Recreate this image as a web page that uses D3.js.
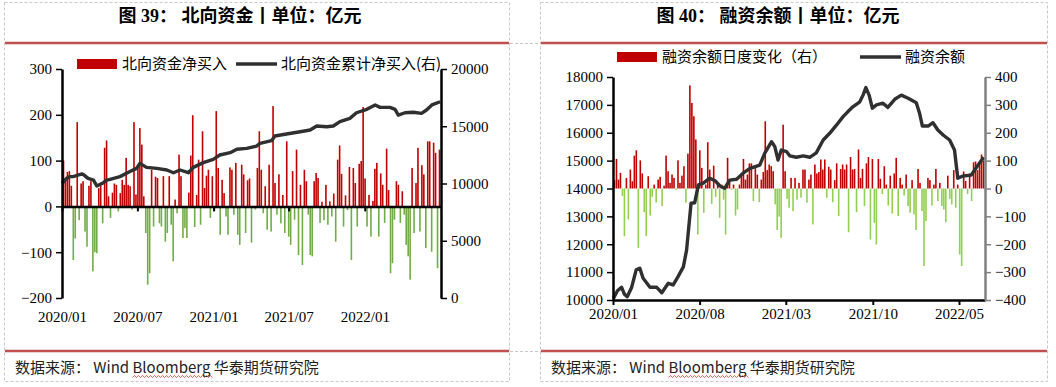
<!DOCTYPE html>
<html>
<head>
<meta charset="utf-8">
<script src="https://cdn.jsdelivr.net/npm/d3@7/dist/d3.min.js"></script>
<style>
    body { margin: 0; background: #fff; }
    svg text { font-family: "Liberation Serif", "Noto Sans CJK SC", serif; fill: #000; }
    .cjk { font-family: "Noto Sans CJK SC", sans-serif; }
</style>
</head>
<body>
<svg id="chart" width="1056" height="387"></svg>
<script>
// ---------- 图39 北向资金 ----------
// 日度净买入（亿元），按交易日顺序，读图估计
const northNetBuy = [
    100, 62, 75, 77, 45, -117, -70, 184, -30, 50,
    55, -55, -88, 45, 55, -142, -100, -102, 40, 45,
    -37, 128, 144, 22, -25, 30, 50, 47, -11, 29,
    58, 47, 106, 47, 44, -7, 184, 26, 88, 171,
    135, 22, -58, -171, -146, 80, -44, 65, 62, -37,
    -44, 66, -77, -58, 66, -40, -120, 15, -15, 113,
    66, -69,
    -47, -69, 30, 111, 199, -45, 25, 102, -40, 164,
    40, 67, 80, -25, 66, -10, 208, 84, -62, 58,
    29, -22, -62, 85, 80, -18, 95, -62, -84, 91,
    70, -58, 57, 61, -79, -4, -7, 84, 164, 80,
    -15, 44, -51, 91, -55, 219, 51, -18, 70, -37,
    25, -58, 142, -66, -84, 77, -29, 124, -106, 47,
    -128, 80, 55, -18, -106, -109,
    55, 73, 62, -36, 10, -30, 47, -40, 11, -22,
    28, -77, 102, 133, 71, -44, 24, -8, 86, -117,
    84, 51, -44, 93, 99, 217, 61, -44, 25, -66,
    12, 82, 95, -66, 72, 47, -36, 126, 36, -146,
    -124, -29, 55, 47, -36, 33, -18, -84, -109, -160,
    84, -58, 51, 128, -55, 90, 70, -91, 142, 142,
    -99, 139, 117, -135, 124
];
// 累计净买入（右轴）
const northCumDates = [
    "2020-01-01", "2020-01-12", "2020-01-20", "2020-01-28", "2020-02-18", "2020-02-21",
    "2020-03-04", "2020-03-17", "2020-03-25", "2020-04-10", "2020-04-18", "2020-04-26",
    "2020-05-20", "2020-06-13", "2020-06-29", "2020-07-07", "2020-07-23", "2020-08-17",
    "2020-09-10", "2020-09-26", "2020-10-12", "2020-11-01", "2020-11-13", "2020-12-07",
    "2020-12-31", "2021-01-16", "2021-02-10", "2021-02-26", "2021-03-22", "2021-04-15",
    "2021-04-23", "2021-05-21", "2021-05-29", "2021-06-26", "2021-07-29", "2021-08-22",
    "2021-09-07", "2021-10-01", "2021-10-17", "2021-11-02", "2021-11-26", "2021-12-12",
    "2022-01-06", "2022-01-26", "2022-02-07", "2022-03-03", "2022-03-15", "2022-03-23",
    "2022-04-08", "2022-04-28", "2022-05-18", "2022-05-30", "2022-06-12", "2022-07-02"
];
const northCumValues = [
    10000, 10450, 10600, 10600, 10830, 10800,
    10450, 10300, 9780, 10070, 10300, 10360,
    10600, 11040, 11320, 11760, 11410, 11320,
    11180, 10940, 11180, 10940, 11410, 11820,
    12110, 12490, 12690, 12990, 13070, 13270,
    13510, 13740, 14150, 14320, 14520, 14670,
    15020, 14960, 15020, 15400, 15690, 16180,
    16480, 16860, 16650, 16650, 16480, 15980,
    16180, 16220, 16130, 16420, 16860, 17140
];
const northTickLabels = ["2020/01", "2020/07", "2021/01", "2021/07", "2022/01"];
const northLeftTicks = [-200, -100, 0, 100, 200, 300];
const northRightTicks = [0, 5000, 10000, 15000, 20000];

// ---------- 图40 融资余额 ----------
// 融资余额日度变化（右轴，亿元）
const marginChange = [
    30, 106, 32, 56, -27, -171, 38, -111, 68, 26,
    118, 137, -213, 101, 54, -85, -171, 44, -97, -30,
    14, -50, 32, 42, -63, 10, 118, 62, 20, 50,
    38, -5, 101, 20, 46, 80, -51, 125, 370, 307,
    259, 176, -165, 137, 74, -87, 14, 166, 68, -55,
    82, -30, 20, -105, 14, -40, -165, 110, 32, -5,
    14, -97, -75, 14, 54, 106, 32, 50, 90, 90,
    -45, 80, 50, -49, 32, 59, 241, 66, 86, 80,
    62, -57, -149, -101, -177, 229, 62, -37, -69, 38,
    -81, 38, -40, 20, -33, 68, 68, -51, 32, 50,
    -129, 86, 54, 59, 104, 68, 104, -33, 78, 68,
    -49, 30, 90, -99, 70, 86, 68, 86, -157, 113,
    68, 70, -85, 140, 38, 70, -63, 90, 113, -183,
    106, -123, -201, 106, 35, -20, 80, 14, -61, 46,
    -90, 54, 110, -99, 38, 14, -25, 50, -63, -87,
    30, -93, -149, 70, 20, -81, -278, -117, 38, 30,
    -61, 14, 70, -45, 20, -63, -75, -121, 46, -37,
    -57, 66, -69, 14, -237, -278, 61, 27, -20, 54,
    -45, 94, 97, 66, 92, 122, 100
];
// 融资余额（左轴）
const marginDates = [
    "2020-01-02", "2020-01-12", "2020-01-22", "2020-01-29", "2020-02-05", "2020-02-16",
    "2020-02-27", "2020-03-07", "2020-03-15", "2020-04-01", "2020-04-17", "2020-04-30",
    "2020-05-16", "2020-05-28", "2020-06-09", "2020-06-22", "2020-06-30", "2020-07-11",
    "2020-07-20", "2020-07-29", "2020-08-10", "2020-08-26", "2020-09-08", "2020-09-20",
    "2020-10-02", "2020-10-14", "2020-10-31", "2020-11-16", "2020-12-03", "2020-12-27",
    "2021-01-08", "2021-01-25", "2021-02-02", "2021-02-10", "2021-02-18", "2021-03-03",
    "2021-03-11", "2021-03-27", "2021-04-13", "2021-04-29", "2021-05-15", "2021-06-01",
    "2021-06-17", "2021-07-04", "2021-07-20", "2021-08-01", "2021-08-13", "2021-08-30",
    "2021-09-07", "2021-09-14", "2021-09-22", "2021-09-30", "2021-10-10", "2021-10-26",
    "2021-11-07", "2021-11-24", "2021-12-10", "2021-12-27", "2022-01-16", "2022-01-24",
    "2022-01-31", "2022-02-14", "2022-02-26", "2022-03-10", "2022-03-23", "2022-04-08",
    "2022-04-20", "2022-04-28", "2022-05-11", "2022-05-31", "2022-06-17", "2022-07-01"
];
const marginBalance = [
    10060, 10330, 10460, 10210, 10120, 10460,
    11080, 11140, 10780, 10460, 10460, 10260,
    10600, 10540, 10840, 11190, 11790, 13470,
    13490, 14130, 14190, 14370, 14280, 14090,
    14010, 14300, 14330, 14550, 14720, 14840,
    15260, 15680, 15500, 15020, 15380, 15320,
    15170, 15120, 15170, 15120, 15280, 15740,
    15980, 16280, 16580, 16760, 16930, 17110,
    17350, 17620, 17350, 16880, 17000, 17060,
    16910, 17200, 17350, 17240, 17080, 16700,
    16240, 16240, 16360, 16100, 15920, 15740,
    15380, 14370, 14450, 14480, 14840, 15120
];
const marginTickLabels = ["2020/01", "2020/08", "2021/03", "2021/10", "2022/05"];
const marginLeftTicks = [10000, 11000, 12000, 13000, 14000, 15000, 16000, 17000, 18000];
const marginRightTicks = [-400, -300, -200, -100, 0, 100, 200, 300, 400];


let parseDay = d3.timeParse("%Y-%m-%d");
let parseMonth = d3.timeParse("%Y/%m");
let plain = d3.format("d");
let svg = d3.select("#chart");


// panel frame: dashed cell border, title, red rules, source
function drawFrame(x0, x1, title, titleX) {
    svg.append("rect")
        .attr("x", x0 + 0.5).attr("y", 2.5)
        .attr("width", x1 - x0).attr("height", 379)
        .attr("fill", "none")
        .attr("stroke", "#c8c8c8")
        .attr("stroke-dasharray", "3,2");

    svg.append("text")
        .attr("x", titleX).attr("y", 21.5)
        .attr("text-anchor", "middle")
        .style("font-size", "18px")
        .style("font-weight", "bold")
        .text(title);

    [43, 351].forEach(function (yy) {
        svg.append("line")
            .attr("x1", x0 + 1).attr("x2", x1)
            .attr("y1", yy).attr("y2", yy)
            .attr("stroke", "#c0504d")
            .attr("stroke-width", 2.5);
    });

    let src = svg.append("text")
        .attr("class", "cjk")
        .attr("x", x0 + 11).attr("y", 373)
        .style("font-size", "15px")
        .style("fill", "#222")
        .text("数据来源： Wind Bloomberg 华泰期货研究院");

    // spell-check squiggle under "Bloomberg"
    let node = src.node();
    let s = node.getStartPositionOfChar(11).x;
    let e = node.getEndPositionOfChar(19).x + 4;
    let pts = d3.range(s, e, 2).map(function (px, i) { return [px, i % 2 ? 375.5 : 377.5]; });
    svg.append("path")
        .attr("d", d3.line()(pts))
        .attr("fill", "none")
        .attr("stroke", "#e03030")
        .attr("stroke-width", 0.8);
}


// dual axis bars + line
DualChart = function (_cfg) {
    this.cfg = _cfg;
    this.initVis();
};

DualChart.prototype.initVis = function () {
    let vis = this;
    let c = vis.cfg;

    vis.x = d3.scaleTime()
        .domain([parseDay("2020-01-01"), parseDay("2022-07-04")])
        .range([c.left, c.right]);

    vis.xi = d3.scaleLinear()
        .domain([0, c.bars.length - 1])
        .range([c.left + 1.5, c.right - 1.5]);

    vis.yLeft = d3.scaleLinear().domain(c.leftDomain).range([c.bottom, c.top]);
    vis.yRight = d3.scaleLinear().domain(c.rightDomain).range([c.bottom, c.top]);

    vis.yBar = c.barsOnLeft ? vis.yLeft : vis.yRight;
    vis.yLine = c.barsOnLeft ? vis.yRight : vis.yLeft;

    vis.g = svg.append("g");

    // bars
    vis.g.append("g").selectAll("rect")
        .data(c.bars)
        .enter().append("rect")
        .attr("x", function (d, i) { return vis.xi(i) - 0.8; })
        .attr("width", 1.6)
        .attr("y", function (d) { return vis.yBar(Math.max(0, d)); })
        .attr("height", function (d) { return Math.abs(vis.yBar(d) - vis.yBar(0)); })
        .attr("fill", function (d) { return d >= 0 ? "#c00000" : c.green; });

    // line
    let pts = c.lineDates.map(function (d, i) { return {date: parseDay(d), value: c.lineValues[i]}; });
    vis.g.append("path")
        .datum(pts)
        .attr("fill", "none")
        .attr("stroke", "#303030")
        .attr("stroke-width", 3.4)
        .attr("stroke-linejoin", "round")
        .attr("d", d3.line()
            .x(function (d) { return vis.x(d.date); })
            .y(function (d) { return vis.yLine(d.value); }));

    let tickDates = c.tickLabels.map(function (t) { return parseMonth(t); });

    // x axis line + ticks
    let xAxisY = c.barsOnLeft ? vis.yBar(0) : c.bottom;
    let xg = vis.g.append("g")
        .attr("transform", "translate(0," + xAxisY + ")")
        .call(d3.axisBottom(vis.x).tickValues(tickDates).tickSize(5).tickSizeOuter(0).tickFormat(""));
    xg.select(".domain").attr("stroke-width", 2.5);
    xg.selectAll(".tick line").attr("stroke-width", 2);

    // x labels
    let xl = vis.g.append("g")
        .attr("transform", "translate(0," + c.bottom + ")")
        .call(d3.axisBottom(vis.x).tickValues(tickDates).tickSize(0).tickPadding(c.labelPad)
            .tickFormat(d3.timeFormat("%Y/%m")));
    xl.select(".domain").remove();
    xl.selectAll("text").style("font-size", "15px");

    // left axis
    let la = vis.g.append("g")
        .attr("transform", "translate(" + c.left + ",0)")
        .call(d3.axisLeft(vis.yLeft).tickValues(c.leftTicks).tickFormat(plain)
            .tickSize(6).tickSizeOuter(0).tickPadding(4));
    la.select(".domain").attr("stroke-width", 2.5);
    la.selectAll(".tick line").attr("stroke-width", 1.5);
    la.selectAll("text").style("font-size", "15px");

    // right axis
    let ra = vis.g.append("g")
        .attr("transform", "translate(" + c.right + ",0)")
        .call(d3.axisRight(vis.yRight).tickValues(c.rightTicks).tickFormat(plain)
            .tickSize(6).tickSizeOuter(0).tickPadding(4));
    ra.select(".domain").attr("stroke", c.rightAxisColor).attr("stroke-width", 2.5);
    ra.selectAll(".tick line").attr("stroke", c.rightAxisColor).attr("stroke-width", 1.5);
    ra.selectAll("text").style("font-size", "15px");

    // legend
    let lg = vis.g.append("g");
    lg.append("rect")
        .attr("x", c.legend.rectX).attr("y", c.legend.y - 5)
        .attr("width", 40).attr("height", 10)
        .attr("fill", "#c00000");
    lg.append("text")
        .attr("class", "cjk")
        .attr("x", c.legend.rectX + 45).attr("y", c.legend.y)
        .attr("dy", "0.36em")
        .style("font-size", "15px")
        .text(c.barName);
    lg.append("line")
        .attr("x1", c.legend.lineX).attr("x2", c.legend.lineX + 41)
        .attr("y1", c.legend.y).attr("y2", c.legend.y)
        .attr("stroke", "#303030")
        .attr("stroke-width", 3.5);
    lg.append("text")
        .attr("class", "cjk")
        .attr("x", c.legend.lineX + 45).attr("y", c.legend.y)
        .attr("dy", "0.36em")
        .style("font-size", "15px")
        .text(c.lineName);
};


// gap lines between the two cells
[43, 351].forEach(function (yy) {
    svg.append("line")
        .attr("x1", 510).attr("x2", 541)
        .attr("y1", yy + 0.5).attr("y2", yy + 0.5)
        .attr("stroke", "#c8c8c8")
        .attr("stroke-dasharray", "3,2");
});

drawFrame(4, 509, "图 39：  北向资金丨单位：亿元", 240);
drawFrame(540, 1047, "图 40：  融资余额丨单位：亿元", 778);

let north = new DualChart({
    left: 62, right: 441, top: 69, bottom: 298,
    bars: northNetBuy, barsOnLeft: true,
    lineDates: northCumDates, lineValues: northCumValues,
    leftDomain: [-200, 300], rightDomain: [0, 20000],
    leftTicks: northLeftTicks, rightTicks: northRightTicks,
    tickLabels: northTickLabels, labelPad: 13,
    green: "#70ad47", rightAxisColor: "#000",
    barName: "北向资金净买入", lineName: "北向资金累计净买入(右)",
    legend: {rectX: 77, lineX: 236, y: 64}
});

let margin = new DualChart({
    left: 613, right: 985, top: 77, bottom: 300,
    bars: marginChange, barsOnLeft: false,
    lineDates: marginDates, lineValues: marginBalance,
    leftDomain: [10000, 18000], rightDomain: [-400, 400],
    leftTicks: marginLeftTicks, rightTicks: marginRightTicks,
    tickLabels: marginTickLabels, labelPad: 8,
    green: "#92d050", rightAxisColor: "#808080",
    barName: "融资余额日度变化（右）", lineName: "融资余额",
    legend: {rectX: 617, lineX: 860, y: 57}
});
</script>
</body>
</html>
